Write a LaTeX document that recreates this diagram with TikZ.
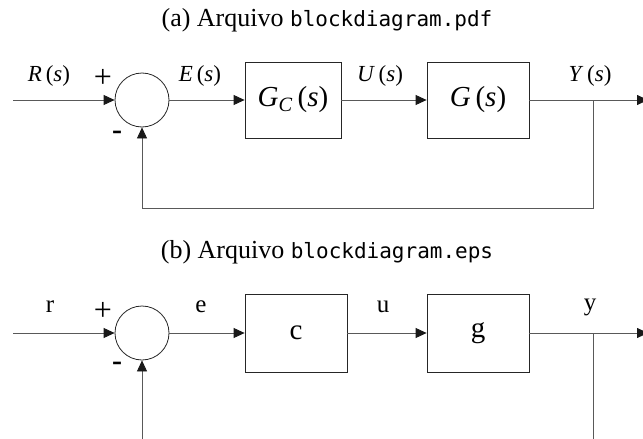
\documentclass[tikz,border=0pt]{standalone}
\usepackage{fontspec}
\setmainfont{Liberation Serif}
\setmonofont{DejaVu Sans Mono}
\usetikzlibrary{arrows.meta}
\tikzset{
    every node/.style={inner sep=0mm},
    sumnode/.style={circle, draw=black!85, line width=0.8pt, minimum size=54pt},
    blk/.style={rectangle, draw=black!85, line width=0.8pt, minimum height=76pt},
    sig/.style={draw=black!65, line width=0.8pt},
    tip/.style={-{Triangle[length=11pt,width=10pt,color=black!90]}},
    lbl/.style={font=\fontsize{23}{23}\selectfont},
    lblb/.style={font=\fontsize{25}{25}\selectfont},
    big/.style={font=\fontsize{29}{29}\selectfont},
    sgn/.style={font=\fontsize{32}{32}\selectfont},
    neg/.style={font=\fontsize{30}{30}\selectfont\bfseries},
    ttl/.style={font=\fontsize{26}{26}\selectfont}
}

\begin{document}
\begin{tikzpicture}[x=1pt,y=-1pt]
        \useasboundingbox (0,0) rectangle (643,439);
        % (a)
        \node (ta) [ttl] at (327,20) {(a) Arquivo {\fontsize{21}{21}\selectfont\texttt{blockdiagram.pdf}}};
        \coordinate (ia) at (13,100);
        \node (sa) [sumnode] at (142,100) {};
        \node (ca) [blk, big, minimum width=96pt] at (293,100) {\textit{G}\textsubscript{\textit{C}}\,(\textit{s})};
        \node (ga) [blk, big, minimum width=102pt] at (478,100) {\textit{G}\,(\textit{s})};
        \coordinate (ba) at (593,100);
        \coordinate (oa) at (648,100);
        \coordinate (fa1) at (593,208);
        \coordinate (fa2) at (142,208);
        \node (ra) [lbl] at (49,76) {\textit{R}\,(\textit{s})};
        \node (pa) [sgn] at (103,78) {+};
        \node (ma) [neg] at (117,135) {-};
        \node (ea) [lbl] at (200,76) {\textit{E}\,(\textit{s})};
        \node (ua) [lbl] at (380,76) {\textit{U}\,(\textit{s})};
        \node (ya) [lbl] at (590,76) {\textit{Y}\,(\textit{s})};
        \draw [sig, tip] (ia) -- (sa);
        \draw [sig, tip] (sa) -- (ca);
        \draw [sig, tip] (ca) -- (ga);
        \draw [sig, tip] (ga) -- (oa);
        \draw [sig, tip] (ba) -- (fa1) -- (fa2) -- (sa);
        % (b)
        \node (tb) [ttl] at (327,252) {(b) Arquivo {\fontsize{21}{21}\selectfont\texttt{blockdiagram.eps}}};
        \coordinate (ib) at (13,333);
        \node (sb) [sumnode] at (142,333) {};
        \node (cb) [blk, big, minimum width=102pt, minimum height=78pt] at (296,333) {c};
        \node (gb) [blk, big, minimum width=102pt, minimum height=78pt] at (478,333) {g};
        \coordinate (bb) at (593,333);
        \coordinate (ob) at (648,333);
        \coordinate (fb1) at (593,445);
        \coordinate (fb2) at (142,445);
        \node (rb) [lblb] at (50,307) {r};
        \node (pb) [sgn] at (103,311) {+};
        \node (mb) [neg] at (117,366) {-};
        \node (eb) [lblb] at (201,307) {e};
        \node (ub) [lblb] at (383,307) {u};
        \node (yb) [lblb] at (590,307) {y};
        \draw [sig, tip] (ib) -- (sb);
        \draw [sig, tip] (sb) -- (cb);
        \draw [sig, tip] (cb) -- (gb);
        \draw [sig, tip] (gb) -- (ob);
        \draw [sig] (bb) -- (fb1);
        \draw [sig, tip] (fb2) -- (sb);
\end{tikzpicture}
\end{document}
